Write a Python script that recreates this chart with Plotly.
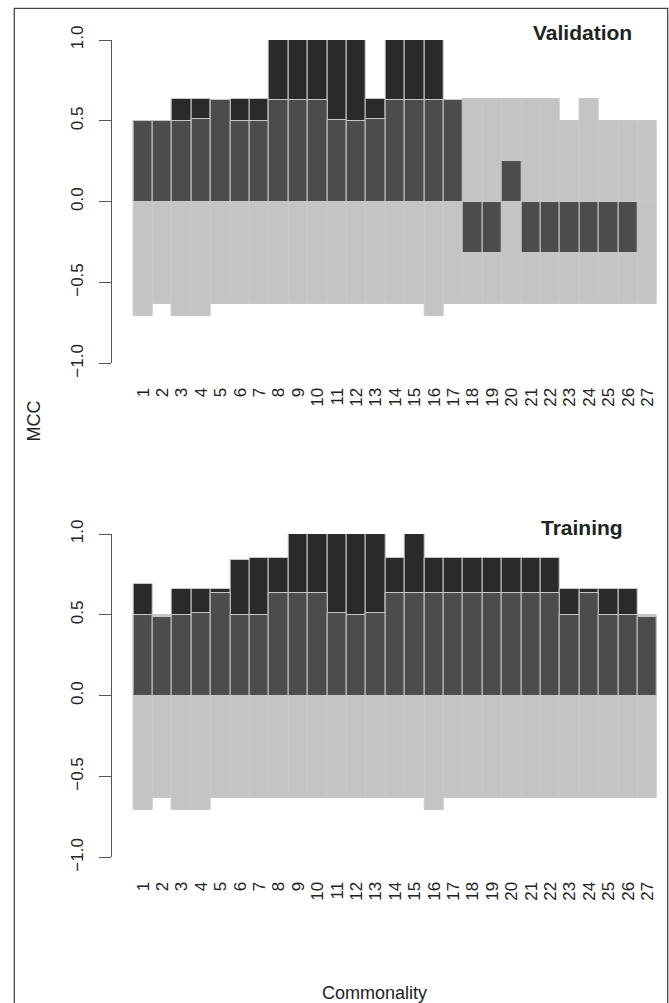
import plotly.graph_objects as go

categories = list(range(1, 28))
tick_labels = [str(c) for c in categories]

val_light_pos = [0.5, 0.5, 0.63, 0.63, 0.63, 0.63, 0.63, 0.63, 0.63, 0.63, 0.63, 0.63, 0.63, 0.63,
                 0.63, 0.63, 0.63, 0.633, 0.633, 0.633, 0.633, 0.633, 0.5, 0.633, 0.5, 0.5, 0.5]
val_light_neg = [-0.705, -0.635, -0.705, -0.705, -0.635, -0.635, -0.635, -0.635, -0.635, -0.635,
                 -0.635, -0.635, -0.635, -0.635, -0.635, -0.705, -0.635, -0.635, -0.635, -0.635,
                 -0.635, -0.635, -0.635, -0.635, -0.635, -0.635, -0.635]
val_black = [0.5, 0.5, 0.633, 0.633, 0.63, 0.633, 0.633, 1.0, 1.0, 1.0, 1.0, 1.0, 0.633, 1.0,
             1.0, 1.0, 0.63, -0.32, -0.32, 0.25, -0.32, -0.32, -0.32, -0.32, -0.32, -0.32, 0.0]
val_dark = [0.5, 0.5, 0.5, 0.51, 0.63, 0.5, 0.5, 0.63, 0.63, 0.63, 0.505, 0.5, 0.51, 0.63,
            0.63, 0.63, 0.63, -0.32, -0.32, 0.25, -0.32, -0.32, -0.32, -0.32, -0.32, -0.32, 0.0]

tr_light_pos = [0.5] * 27
tr_light_neg = [-0.705, -0.635, -0.705, -0.705, -0.635, -0.635, -0.635, -0.635, -0.635, -0.635,
                -0.635, -0.635, -0.635, -0.635, -0.635, -0.705, -0.635, -0.635, -0.635, -0.635,
                -0.635, -0.635, -0.635, -0.635, -0.635, -0.635, -0.635]
tr_black = [0.69, 0.485, 0.66, 0.66, 0.66, 0.84, 0.85, 0.85, 1.0, 1.0, 1.0, 1.0, 1.0, 0.85,
            1.0, 0.85, 0.85, 0.85, 0.85, 0.85, 0.85, 0.85, 0.66, 0.66, 0.66, 0.66, 0.485]
tr_dark = [0.5, 0.485, 0.5, 0.51, 0.633, 0.5, 0.5, 0.633, 0.633, 0.633, 0.51, 0.5, 0.51, 0.633,
           0.633, 0.633, 0.633, 0.633, 0.633, 0.633, 0.633, 0.633, 0.5, 0.633, 0.5, 0.5, 0.485]

y_tickvals = [-1.0, -0.5, 0.0, 0.5, 1.0]
y_ticktext = ["\u22121.0", "\u22120.5", "0.0", "0.5", "1.0"]

LIGHT = "#c4c4c4"
DARK = "#4c4c4c"
BLACK = "#2a2a2a"
EDGE = "#c8c8c8"
FONT = "Liberation Sans, Arial, sans-serif"
TXT = "#222222"

W, H = 669, 1003

fig = go.Figure()

def add_panel(xa, ya, lpos, lneg, blk, drk):
    for vals, col in [(lpos, LIGHT), (lneg, LIGHT), (blk, BLACK), (drk, DARK)]:
        fig.add_trace(go.Bar(x=categories, y=vals, width=1.0, marker=dict(color=col, line=dict(color=EDGE, width=1)),
                             xaxis=xa, yaxis=ya, showlegend=False, hoverinfo="skip"))

add_panel("x", "y", val_light_pos, val_light_neg, val_black, val_dark)
add_panel("x2", "y2", tr_light_pos, tr_light_neg, tr_black, tr_dark)

def py(p):
    return 1 - p / H

x_left = 111.7
x_unit = 19.4
x0_data = 0.5 - (133.3 - x_left) / x_unit
x1_data = x0_data + (W - x_left) / x_unit

xcommon = dict(range=[x0_data, x1_data], tickmode="array", tickvals=categories, ticktext=tick_labels,
               tickangle=-90, showgrid=False, zeroline=False, showline=False, ticks="", automargin=False,
               tickfont=dict(family=FONT, size=17, color=TXT), ticklabelstandoff=20, fixedrange=True)
ycommon = dict(range=[-1, 1], tickmode="array", tickvals=y_tickvals, ticktext=y_ticktext, tickangle=-90,
               showgrid=False, zeroline=False, showline=True, linecolor="#555555", linewidth=1.3,
               ticks="outside", ticklen=12, tickwidth=1.3, tickcolor="#555555", automargin=False,
               tickfont=dict(family=FONT, size=17, color=TXT), ticklabelstandoff=9, fixedrange=True)

fig.update_layout(
    template="none",
    width=W, height=H, margin=dict(l=0, r=0, t=0, b=0, pad=0), autosize=False,
    paper_bgcolor="white", plot_bgcolor="white", barmode="overlay", bargap=0,
    xaxis=dict(domain=[x_left / W, 1.0], anchor="y", **xcommon),
    yaxis=dict(domain=[py(363.4), py(40.0)], anchor="x", **ycommon),
    xaxis2=dict(domain=[x_left / W, 1.0], anchor="y2", **xcommon),
    yaxis2=dict(domain=[py(857.4), py(534.0)], anchor="x2", **ycommon),
    annotations=[
        dict(text="<b>Validation</b>", xref="paper", yref="paper", x=634 / W, y=py(32.5),
             xanchor="right", yanchor="middle", showarrow=False,
             font=dict(family=FONT, size=21, color=TXT)),
        dict(text="<b>Training</b>", xref="paper", yref="paper", x=625 / W, y=py(527),
             xanchor="right", yanchor="middle", showarrow=False,
             font=dict(family=FONT, size=21, color=TXT)),
        dict(text="MCC", xref="paper", yref="paper", x=33.5 / W, y=py(421), textangle=-90,
             xanchor="center", yanchor="middle", showarrow=False,
             font=dict(family=FONT, size=18, color=TXT)),
        dict(text="Commonality", xref="paper", yref="paper", x=375 / W, y=py(993),
             xanchor="center", yanchor="middle", showarrow=False,
             font=dict(family=FONT, size=18, color=TXT)),
    ],
    shapes=[
        dict(type="rect", xref="paper", yref="paper", x0=14.3 / W, x1=667.7 / W, y0=-0.02, y1=py(8.3),
             line=dict(color="#444444", width=1.3), fillcolor="rgba(0,0,0,0)", layer="above"),
    ],
)

fig.write_html("out.html")
